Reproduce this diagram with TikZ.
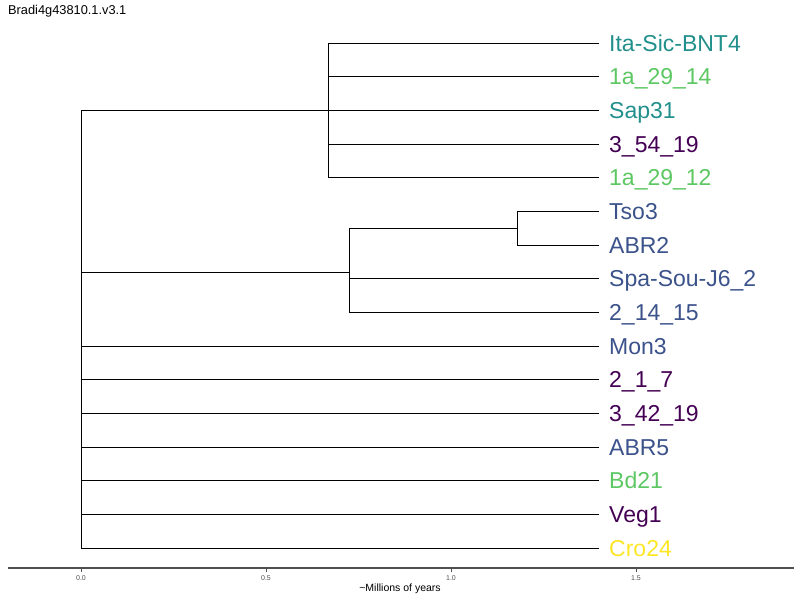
\documentclass[tikz,border=0pt]{standalone}
\usepackage{fontspec}
\setmainfont{Liberation Sans}
\begin{document}
\definecolor{vteal}{HTML}{21908C}
\definecolor{vgreen}{HTML}{5DC863}
\definecolor{vpurple}{HTML}{440154}
\definecolor{vblue}{HTML}{3B528B}
\definecolor{vyellow}{HTML}{FDE725}
\definecolor{axisgray}{HTML}{505050}
\begin{tikzpicture}[x=1pt,y=-1pt,
  branch/.style={draw=black,line width=0.9pt},
  tiplabel/.style={anchor=base west,inner sep=0pt,font=\fontsize{23}{25}\selectfont},
  ticklabel/.style={anchor=center,inner sep=0pt,text=axisgray,font=\fontsize{7}{8}\selectfont},
]
\useasboundingbox[fill=white] (0,0) rectangle (800,600);

\node[anchor=base west,inner sep=0pt,font=\fontsize{12.8}{14}\selectfont] (title) at (8,14) {Bradi4g43810.1.v3.1};

% tips
\foreach \i/\name/\col in {0/Ita-Sic-BNT4/vteal,1/1a\_29\_14/vgreen,2/Sap31/vteal,3/3\_54\_19/vpurple,
  4/1a\_29\_12/vgreen,5/Tso3/vblue,6/ABR2/vblue,7/Spa-Sou-J6\_2/vblue,8/2\_14\_15/vblue,
  9/Mon3/vblue,10/2\_1\_7/vpurple,11/3\_42\_19/vpurple,12/ABR5/vblue,13/Bd21/vgreen,
  14/Veg1/vpurple,15/Cro24/vyellow}{
  \coordinate (t\i) at (599,{43+33.667*\i});
  \node[tiplabel,text=\col] (l\i) at (609,{51+33.667*\i}) {\name};
}

% internal nodes
\coordinate (root) at (81,548);
\coordinate (cA) at (328,110);
\coordinate (cB) at (349,272);
\coordinate (cC) at (517,228);

% clade A
\foreach \i in {0,...,4}{\draw[branch] (t\i) -| (cA);}
% clade C
\foreach \i in {5,6}{\draw[branch] (t\i) -| (cC);}
% clade B
\draw[branch] (cC) -| (cB);
\foreach \i in {7,8}{\draw[branch] (t\i) -| (cB);}
% root
\draw[branch] (cA) -| (root);
\draw[branch] (cB) -| (root);
\foreach \i in {9,...,15}{\draw[branch] (t\i) -| (root);}

% time axis
\coordinate (axL) at (8,568);
\coordinate (axR) at (794,568);
\draw[axisgray,line width=1.4pt] (axL) -- (axR);
\foreach \v/\x in {0.0/81,0.5/266,1.0/451,1.5/636}{
  \draw[axisgray,line width=0.5pt] (\x,568) -- (\x,572);
  \node[ticklabel] (tick\x) at (\x,578) {\v};
}
\node[anchor=center,inner sep=0pt,font=\fontsize{10.5}{12}\selectfont] (xlabel) at (400,589) {\textasciitilde Millions of years};
\end{tikzpicture}
\end{document}
